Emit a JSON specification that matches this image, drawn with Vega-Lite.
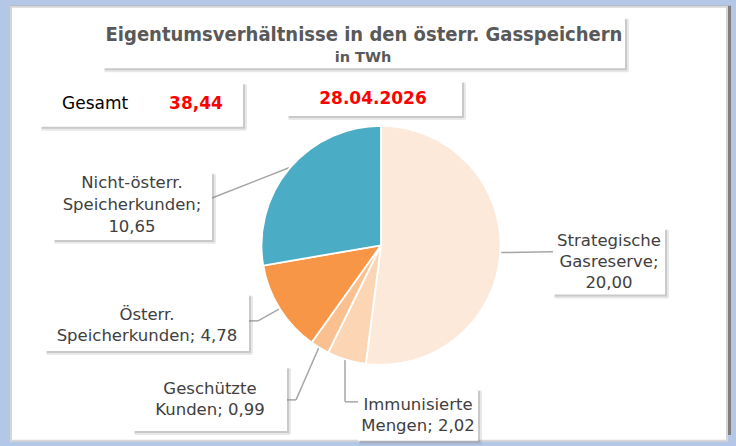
{
  "$schema": "https://vega.github.io/schema/vega-lite/v6.json",
  "width": 736,
  "height": 446,
  "autosize": {"type": "fit", "contains": "padding"},
  "padding": 0,
  "background": "#b4c7e7",
  "config": {"view": {"stroke": null}, "axis": {"disable": true}, "text": {"font": "DejaVu Sans"}},
  "datasets": {
    "slices": [
      {"idx": 1, "category": "Strategische Gasreserve", "value": 20.00, "label": "Strategische\nGasreserve;\n20,00"},
      {"idx": 2, "category": "Immunisierte Mengen", "value": 2.02, "label": "Immunisierte\nMengen; 2,02"},
      {"idx": 3, "category": "Geschützte Kunden", "value": 0.99, "label": "Geschützte\nKunden; 0,99"},
      {"idx": 4, "category": "Österr. Speicherkunden", "value": 4.78, "label": "Österr.\nSpeicherkunden; 4,78"},
      {"idx": 5, "category": "Nicht-österr. Speicherkunden", "value": 10.65, "label": "Nicht-österr.\nSpeicherkunden;\n10,65"}
    ],
    "one": [{}]
  },
  "layer": [
    {"data": {"name": "one"}, "mark": {"type": "rect", "fill": "#7f7f7f"},
     "encoding": {"x": {"datum": 10, "type": "quantitative", "scale": {"domain": [0, 736], "nice": false}}, "x2": {"datum": 731},
                  "y": {"datum": 6, "type": "quantitative", "scale": {"domain": [0, 446], "nice": false, "reverse": true}}, "y2": {"datum": 446}}},
    {"data": {"name": "one"}, "mark": {"type": "rect", "fill": "white", "stroke": "#d6d6d6", "strokeWidth": 2},
     "encoding": {"x": {"datum": 11, "type": "quantitative"}, "x2": {"datum": 727}, "y": {"datum": 7, "type": "quantitative"}, "y2": {"datum": 452}}},

    {"data": {"name": "one"}, "mark": {"type": "rect", "fill": "#808080", "opacity": 0.18, "cornerRadius": 2},
     "encoding": {"x": {"datum": 104, "type": "quantitative"}, "x2": {"datum": 629}, "y": {"datum": 19, "type": "quantitative"}, "y2": {"datum": 74}}},
    {"data": {"name": "one"}, "mark": {"type": "rect", "fill": "#808080", "opacity": 0.3},
     "encoding": {"x": {"datum": 105, "type": "quantitative"}, "x2": {"datum": 627}, "y": {"datum": 20, "type": "quantitative"}, "y2": {"datum": 72}}},
    {"data": {"name": "one"}, "mark": {"type": "rect", "fill": "white"},
     "encoding": {"x": {"datum": 103, "type": "quantitative"}, "x2": {"datum": 625}, "y": {"datum": 18, "type": "quantitative"}, "y2": {"datum": 70}}},
    {"data": {"name": "one"}, "mark": {"type": "text", "text": "Eigentumsverhältnisse in den österr. Gasspeichern", "font": "DejaVu Sans Condensed", "fontSize": 20, "fontWeight": "bold", "color": "#595959", "align": "center", "baseline": "middle"},
     "encoding": {"x": {"datum": 364, "type": "quantitative"}, "y": {"datum": 36, "type": "quantitative"}}},
    {"data": {"name": "one"}, "mark": {"type": "text", "text": "in TWh", "fontSize": 14.5, "fontWeight": "bold", "color": "#595959", "align": "center", "baseline": "middle"},
     "encoding": {"x": {"datum": 363, "type": "quantitative"}, "y": {"datum": 59, "type": "quantitative"}}},

    {"data": {"name": "one"}, "mark": {"type": "rect", "fill": "#808080", "opacity": 0.18, "cornerRadius": 2},
     "encoding": {"x": {"datum": 41, "type": "quantitative"}, "x2": {"datum": 247}, "y": {"datum": 86, "type": "quantitative"}, "y2": {"datum": 134}}},
    {"data": {"name": "one"}, "mark": {"type": "rect", "fill": "#808080", "opacity": 0.3},
     "encoding": {"x": {"datum": 42, "type": "quantitative"}, "x2": {"datum": 245}, "y": {"datum": 87, "type": "quantitative"}, "y2": {"datum": 132}}},
    {"data": {"name": "one"}, "mark": {"type": "rect", "fill": "white"},
     "encoding": {"x": {"datum": 40, "type": "quantitative"}, "x2": {"datum": 243}, "y": {"datum": 85, "type": "quantitative"}, "y2": {"datum": 130}}},
    {"data": {"name": "one"}, "mark": {"type": "text", "text": "Gesamt", "fontSize": 17, "color": "#000000", "align": "left", "baseline": "middle"},
     "encoding": {"x": {"datum": 62, "type": "quantitative"}, "y": {"datum": 107, "type": "quantitative"}}},
    {"data": {"name": "one"}, "mark": {"type": "text", "text": "38,44", "fontSize": 17, "fontWeight": "bold", "color": "#ff0000", "align": "center", "baseline": "middle"},
     "encoding": {"x": {"datum": 196, "type": "quantitative"}, "y": {"datum": 107, "type": "quantitative"}}},

    {"data": {"name": "one"}, "mark": {"type": "rect", "fill": "#808080", "opacity": 0.18, "cornerRadius": 2},
     "encoding": {"x": {"datum": 288, "type": "quantitative"}, "x2": {"datum": 466}, "y": {"datum": 84, "type": "quantitative"}, "y2": {"datum": 123}}},
    {"data": {"name": "one"}, "mark": {"type": "rect", "fill": "#808080", "opacity": 0.3},
     "encoding": {"x": {"datum": 289, "type": "quantitative"}, "x2": {"datum": 464}, "y": {"datum": 85, "type": "quantitative"}, "y2": {"datum": 121}}},
    {"data": {"name": "one"}, "mark": {"type": "rect", "fill": "white"},
     "encoding": {"x": {"datum": 287, "type": "quantitative"}, "x2": {"datum": 462}, "y": {"datum": 83, "type": "quantitative"}, "y2": {"datum": 119}}},
    {"data": {"name": "one"}, "mark": {"type": "text", "text": "28.04.2026", "fontSize": 17, "fontWeight": "bold", "color": "#ff0000", "align": "center", "baseline": "middle"},
     "encoding": {"x": {"datum": 373, "type": "quantitative"}, "y": {"datum": 101, "type": "quantitative"}}},

    {"data": {"name": "one"}, "mark": {"type": "rule", "color": "#a6a6a6", "strokeWidth": 1.5},
     "encoding": {"x": {"datum": 212, "type": "quantitative"}, "y": {"datum": 203, "type": "quantitative"}, "x2": {"datum": 289}, "y2": {"datum": 172}}},
    {"data": {"name": "one"}, "mark": {"type": "rule", "color": "#a6a6a6", "strokeWidth": 1.5},
     "encoding": {"x": {"datum": 249, "type": "quantitative"}, "y": {"datum": 329, "type": "quantitative"}, "x2": {"datum": 258}, "y2": {"datum": 329}}},
    {"data": {"name": "one"}, "mark": {"type": "rule", "color": "#a6a6a6", "strokeWidth": 1.5},
     "encoding": {"x": {"datum": 258, "type": "quantitative"}, "y": {"datum": 329, "type": "quantitative"}, "x2": {"datum": 279}, "y2": {"datum": 317}}},
    {"data": {"name": "one"}, "mark": {"type": "rule", "color": "#a6a6a6", "strokeWidth": 1.5},
     "encoding": {"x": {"datum": 287, "type": "quantitative"}, "y": {"datum": 410, "type": "quantitative"}, "x2": {"datum": 296}, "y2": {"datum": 410}}},
    {"data": {"name": "one"}, "mark": {"type": "rule", "color": "#a6a6a6", "strokeWidth": 1.5},
     "encoding": {"x": {"datum": 296, "type": "quantitative"}, "y": {"datum": 410, "type": "quantitative"}, "x2": {"datum": 319}, "y2": {"datum": 356}}},
    {"data": {"name": "one"}, "mark": {"type": "rule", "color": "#a6a6a6", "strokeWidth": 1.5},
     "encoding": {"x": {"datum": 358, "type": "quantitative"}, "y": {"datum": 412, "type": "quantitative"}, "x2": {"datum": 345}, "y2": {"datum": 412}}},
    {"data": {"name": "one"}, "mark": {"type": "rule", "color": "#a6a6a6", "strokeWidth": 1.5},
     "encoding": {"x": {"datum": 345, "type": "quantitative"}, "y": {"datum": 412, "type": "quantitative"}, "x2": {"datum": 345}, "y2": {"datum": 368}}},
    {"data": {"name": "one"}, "mark": {"type": "rule", "color": "#a6a6a6", "strokeWidth": 1.5},
     "encoding": {"x": {"datum": 499, "type": "quantitative"}, "y": {"datum": 259, "type": "quantitative"}, "x2": {"datum": 553}, "y2": {"datum": 258}}},

    {"data": {"name": "one"}, "mark": {"type": "point", "shape": "circle", "filled": true, "color": "#cfcfcf", "opacity": 0.6, "size": 46500},
     "encoding": {"x": {"datum": 382, "type": "quantitative"}, "y": {"datum": 252.5, "type": "quantitative"}}},
    {"data": {"name": "slices"}, "mark": {"type": "arc", "radius": 119.5, "stroke": "white", "strokeWidth": 1.8},
     "encoding": {
       "x": {"datum": 381, "type": "quantitative"},
       "y": {"datum": 251.5, "type": "quantitative"},
       "theta": {"field": "value", "type": "quantitative", "stack": true},
       "order": {"field": "idx", "type": "quantitative"},
       "color": {"field": "category", "type": "nominal", "legend": null,
                 "scale": {"domain": ["Strategische Gasreserve", "Immunisierte Mengen", "Geschützte Kunden", "Österr. Speicherkunden", "Nicht-österr. Speicherkunden"],
                           "range": ["#fde9d9", "#fcd5b4", "#fac090", "#f79646", "#4bacc6"]}}
     }},

    {"data": {"name": "one"}, "mark": {"type": "rect", "fill": "#808080", "opacity": 0.18, "cornerRadius": 2},
     "encoding": {"x": {"datum": 54, "type": "quantitative"}, "x2": {"datum": 216}, "y": {"datum": 178, "type": "quantitative"}, "y2": {"datum": 250}}},
    {"data": {"name": "one"}, "mark": {"type": "rect", "fill": "#808080", "opacity": 0.3},
     "encoding": {"x": {"datum": 55, "type": "quantitative"}, "x2": {"datum": 214}, "y": {"datum": 179, "type": "quantitative"}, "y2": {"datum": 248}}},
    {"data": {"name": "one"}, "mark": {"type": "rect", "fill": "white"},
     "encoding": {"x": {"datum": 53, "type": "quantitative"}, "x2": {"datum": 212}, "y": {"datum": 177, "type": "quantitative"}, "y2": {"datum": 246}}},
    {"data": {"name": "slices"}, "transform": [{"filter": "datum.idx == 5"}],
     "mark": {"type": "text", "fontSize": 16.5, "color": "#404040", "align": "center", "baseline": "middle", "lineBreak": "\n", "lineHeight": 22},
     "encoding": {"text": {"field": "label"}, "x": {"datum": 132, "type": "quantitative"}, "y": {"datum": 188, "type": "quantitative"}}},

    {"data": {"name": "one"}, "mark": {"type": "rect", "fill": "#808080", "opacity": 0.18, "cornerRadius": 2},
     "encoding": {"x": {"datum": 46, "type": "quantitative"}, "x2": {"datum": 253}, "y": {"datum": 303, "type": "quantitative"}, "y2": {"datum": 364}}},
    {"data": {"name": "one"}, "mark": {"type": "rect", "fill": "#808080", "opacity": 0.3},
     "encoding": {"x": {"datum": 47, "type": "quantitative"}, "x2": {"datum": 251}, "y": {"datum": 304, "type": "quantitative"}, "y2": {"datum": 362}}},
    {"data": {"name": "one"}, "mark": {"type": "rect", "fill": "white"},
     "encoding": {"x": {"datum": 45, "type": "quantitative"}, "x2": {"datum": 249}, "y": {"datum": 302, "type": "quantitative"}, "y2": {"datum": 360}}},
    {"data": {"name": "slices"}, "transform": [{"filter": "datum.idx == 4"}],
     "mark": {"type": "text", "fontSize": 16.5, "color": "#404040", "align": "center", "baseline": "middle", "lineBreak": "\n", "lineHeight": 21},
     "encoding": {"text": {"field": "label"}, "x": {"datum": 147, "type": "quantitative"}, "y": {"datum": 323, "type": "quantitative"}}},

    {"data": {"name": "one"}, "mark": {"type": "rect", "fill": "#808080", "opacity": 0.18, "cornerRadius": 2},
     "encoding": {"x": {"datum": 134, "type": "quantitative"}, "x2": {"datum": 291}, "y": {"datum": 377, "type": "quantitative"}, "y2": {"datum": 446}}},
    {"data": {"name": "one"}, "mark": {"type": "rect", "fill": "#808080", "opacity": 0.3},
     "encoding": {"x": {"datum": 135, "type": "quantitative"}, "x2": {"datum": 289}, "y": {"datum": 378, "type": "quantitative"}, "y2": {"datum": 444}}},
    {"data": {"name": "one"}, "mark": {"type": "rect", "fill": "white"},
     "encoding": {"x": {"datum": 133, "type": "quantitative"}, "x2": {"datum": 287}, "y": {"datum": 376, "type": "quantitative"}, "y2": {"datum": 442}}},
    {"data": {"name": "slices"}, "transform": [{"filter": "datum.idx == 3"}],
     "mark": {"type": "text", "fontSize": 16.5, "color": "#404040", "align": "center", "baseline": "middle", "lineBreak": "\n", "lineHeight": 21},
     "encoding": {"text": {"field": "label"}, "x": {"datum": 210, "type": "quantitative"}, "y": {"datum": 399, "type": "quantitative"}}},

    {"data": {"name": "one"}, "mark": {"type": "rect", "fill": "#808080", "opacity": 0.18, "cornerRadius": 2},
     "encoding": {"x": {"datum": 359, "type": "quantitative"}, "x2": {"datum": 482}, "y": {"datum": 400, "type": "quantitative"}, "y2": {"datum": 456}}},
    {"data": {"name": "one"}, "mark": {"type": "rect", "fill": "#808080", "opacity": 0.3},
     "encoding": {"x": {"datum": 360, "type": "quantitative"}, "x2": {"datum": 480}, "y": {"datum": 401, "type": "quantitative"}, "y2": {"datum": 454}}},
    {"data": {"name": "one"}, "mark": {"type": "rect", "fill": "white"},
     "encoding": {"x": {"datum": 358, "type": "quantitative"}, "x2": {"datum": 478}, "y": {"datum": 399, "type": "quantitative"}, "y2": {"datum": 452}}},
    {"data": {"name": "slices"}, "transform": [{"filter": "datum.idx == 2"}],
     "mark": {"type": "text", "fontSize": 16.5, "color": "#404040", "align": "center", "baseline": "middle", "lineBreak": "\n", "lineHeight": 21},
     "encoding": {"text": {"field": "label"}, "x": {"datum": 418, "type": "quantitative"}, "y": {"datum": 415, "type": "quantitative"}}},

    {"data": {"name": "one"}, "mark": {"type": "rect", "fill": "#808080", "opacity": 0.18, "cornerRadius": 2},
     "encoding": {"x": {"datum": 554, "type": "quantitative"}, "x2": {"datum": 669}, "y": {"datum": 235, "type": "quantitative"}, "y2": {"datum": 306}}},
    {"data": {"name": "one"}, "mark": {"type": "rect", "fill": "#808080", "opacity": 0.3},
     "encoding": {"x": {"datum": 555, "type": "quantitative"}, "x2": {"datum": 667}, "y": {"datum": 236, "type": "quantitative"}, "y2": {"datum": 304}}},
    {"data": {"name": "one"}, "mark": {"type": "rect", "fill": "white"},
     "encoding": {"x": {"datum": 553, "type": "quantitative"}, "x2": {"datum": 665}, "y": {"datum": 234, "type": "quantitative"}, "y2": {"datum": 302}}},
    {"data": {"name": "slices"}, "transform": [{"filter": "datum.idx == 1"}],
     "mark": {"type": "text", "fontSize": 16.5, "color": "#404040", "align": "center", "baseline": "middle", "lineBreak": "\n", "lineHeight": 21},
     "encoding": {"text": {"field": "label"}, "x": {"datum": 609, "type": "quantitative"}, "y": {"datum": 247, "type": "quantitative"}}}
  ]
}
